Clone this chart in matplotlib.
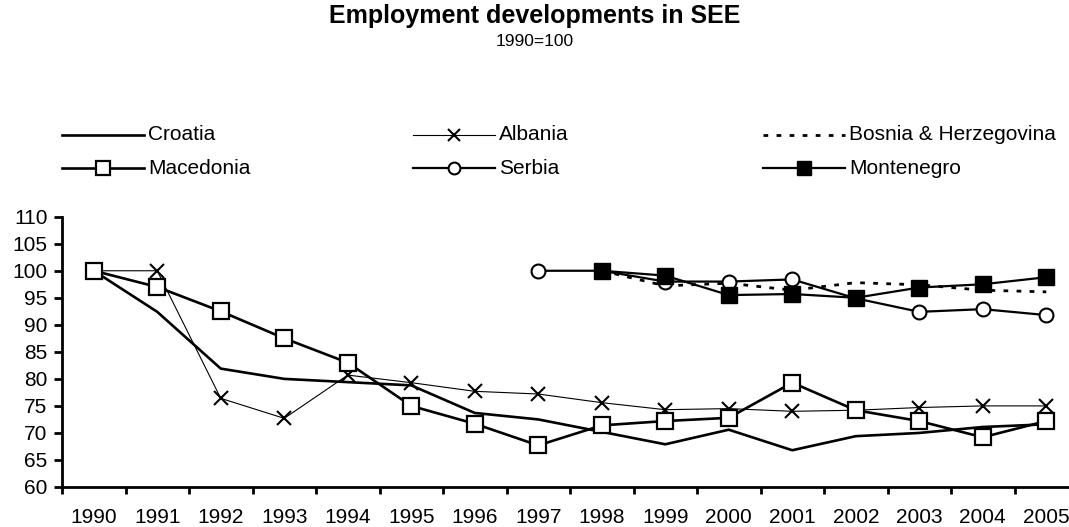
import matplotlib
matplotlib.use("Agg")
import matplotlib.pyplot as plt
from matplotlib.lines import Line2D
import numpy as np

plt.rcParams['font.family'] = ['Liberation Sans', 'DejaVu Sans']

years = [str(y) for y in range(1990, 2006)]
croatia = [100, 92.4, 81.9, 80.0, 79.4, 78.8, 73.7, 72.5, 70.2, 67.9, 70.6, 66.8, 69.4, 70.0, 71.1, 71.6]
albania = [100, 100, 76.4, 72.7, 80.7, 79.3, 77.7, 77.2, 75.6, 74.3, 74.5, 74.0, 74.2, 74.7, 75.0, 75.0]
bosnia = [None]*8 + [100, 97.2, 97.7, 96.4, 97.8, 97.4, 96.4, 96.1]
macedonia = [100, 97.0, 92.5, 87.5, 83.0, 75.0, 71.7, 67.7, 71.4, 72.2, 72.8, 79.3, 74.2, 72.2, 69.2, 72.2]
serbia = [None]*7 + [100, 100, 98.0, 98.0, 98.4, 94.9, 92.4, 92.9, 91.8]
montenegro = [None]*8 + [100, 99.1, 95.5, 95.7, 95.0, 96.9, 97.5, 98.8]

def arr(v):
    return np.array([np.nan if x is None else x for x in v], dtype=float)

W, H = 1069, 527
fig = plt.figure(figsize=(W/100, H/100), dpi=100)
ax = fig.add_axes([62/W, 1-487/H, (1078-62)/W, (487-216.7)/H])

x = np.arange(len(years))
styles = {
    'Croatia': dict(color='black', lw=1.9),
    'Albania': dict(color='black', lw=0.8, marker='x', ms=10, mew=1.5),
    'Bosnia & Herzegovina': dict(color='black', lw=2.0, linestyle=(0, (1.7, 3))),
    'Macedonia': dict(color='black', lw=1.9, marker='s', ms=11, mfc='white', mec='black', mew=1.6),
    'Serbia': dict(color='black', lw=1.6, marker='o', ms=10, mfc='white', mec='black', mew=1.5),
    'Montenegro': dict(color='black', lw=1.6, marker='s', ms=11, mfc='black', mec='black'),
}
series = {
    'Croatia': croatia, 'Albania': albania, 'Bosnia & Herzegovina': bosnia,
    'Macedonia': macedonia, 'Serbia': serbia, 'Montenegro': montenegro,
}
order = ['Croatia', 'Bosnia & Herzegovina', 'Albania', 'Macedonia', 'Serbia', 'Montenegro']
for name in order:
    ax.plot(x, arr(series[name]), clip_on=False, **styles[name])

ax.set_xlim(-0.5, len(years) - 0.5)
ax.set_ylim(60, 110)
ax.set_yticks(np.arange(60, 111, 5))
ax.set_xticks(x)
ax.set_xticklabels(years)
ax.set_xticks(np.arange(-0.5, len(years), 1), minor=True)
ax.tick_params(axis='x', which='major', length=0, pad=15, labelsize=15)
ax.tick_params(axis='x', which='minor', length=5, width=2, direction='out')
ax.tick_params(axis='y', length=6, width=2, direction='out', pad=4.5, labelsize=15)
for s in ['top', 'right']:
    ax.spines[s].set_visible(False)
for s in ['left', 'bottom']:
    ax.spines[s].set_linewidth(2)

fig.text(0.5, 1-16/H, 'Employment developments in SEE', ha='center', va='center',
         fontsize=18, fontweight='bold')
fig.text(0.5, 1-42/H, '1990=100', ha='center', va='center', fontsize=12.5)

legend_pos = [
    ('Croatia', 62, 135), ('Albania', 413, 135), ('Bosnia & Herzegovina', 763, 135),
    ('Macedonia', 62, 168), ('Serbia', 413, 168), ('Montenegro', 763, 168),
]
for name, x0, yp in legend_pos:
    x1 = x0 + 82
    xs = [x0/W, (x0+x1)/2/W, x1/W]
    ys = [1-yp/H]*3
    st = dict(styles[name])
    if 'ms' in st:
        st['ms'] = st['ms'] - 1.5
    ln = Line2D(xs, ys, transform=fig.transFigure, markevery=[1], **st)
    fig.add_artist(ln)
    fig.text((x1+4)/W, 1-yp/H, name, ha='left', va='center', fontsize=15)

fig.savefig('out.png', dpi=100)
